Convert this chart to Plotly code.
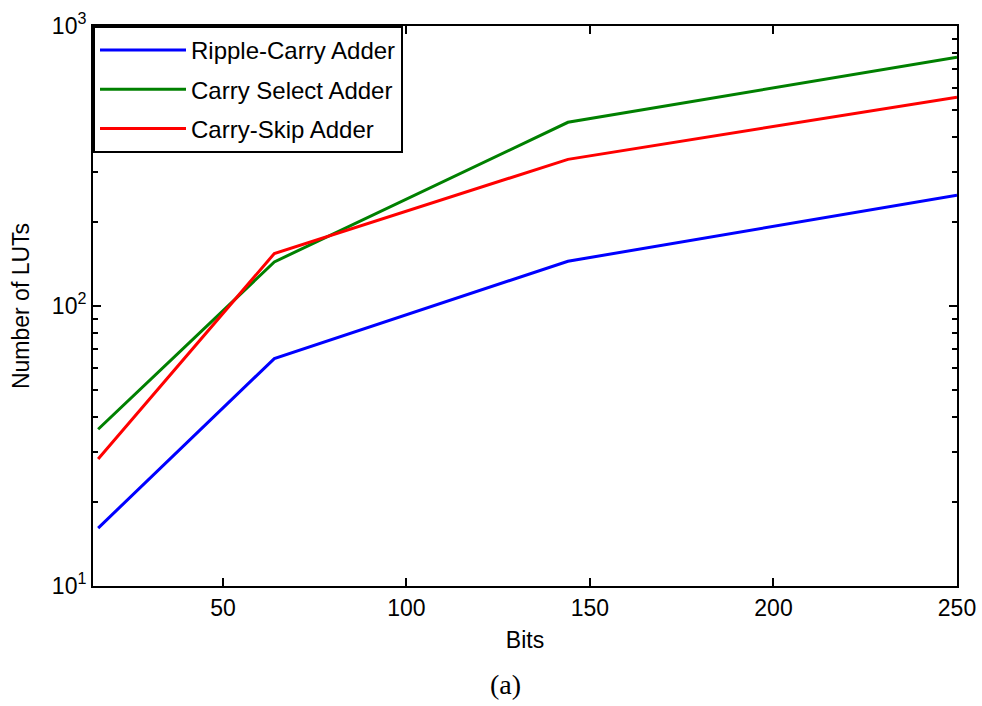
import plotly.graph_objects as go

bits = [16, 64, 144, 250]
ripple_carry = [16.1, 64.9, 144.5, 248.7]
carry_select = [36.3, 143.7, 453, 774]
carry_skip = [28.4, 154, 334, 557]

series = [
    ("Ripple-Carry Adder", ripple_carry, "#0000ff"),
    ("Carry Select Adder", carry_select, "#008000"),
    ("Carry-Skip Adder", carry_skip, "#ff0000"),
]

x_ticks = [50, 100, 150, 200, 250]
y_ticks = [10, 100, 1000]
y_ticktext = ["10<sup>1</sup>", "10<sup>2</sup>", "10<sup>3</sup>"]
y_minor = [m * d for d in (10, 100) for m in range(2, 10)]

fig = go.Figure()
for name, vals, color in series:
    fig.add_trace(go.Scatter(x=bits, y=vals, mode="lines", name=name,
                             legendgroup=name,
                             line=dict(color=color, width=3)))

font = dict(family="Liberation Sans, Arial", size=23, color="black")

fig.update_layout(
    width=982, height=706,
    margin=dict(l=93, r=25, t=26, b=120),
    paper_bgcolor="white", plot_bgcolor="white",
    font=font,
    showlegend=True,
    legend=dict(x=0, y=1, xanchor="left", yanchor="top",
                bordercolor="black", borderwidth=2, bgcolor="white",
                font=dict(family="Liberation Sans, Arial", size=24, color="black"),
                itemwidth=86, tracegroupgap=5),
    annotations=[dict(text="(a)", x=0.478, xref="paper", y=-0.175, yref="paper",
                      xanchor="center", yanchor="middle", showarrow=False,
                      font=dict(family="Liberation Serif, Times New Roman", size=28, color="black"))],
)

fig.update_xaxes(
    range=[14.6, 250], tickvals=x_ticks, ticks="inside", ticklen=8, tickwidth=1.5,
    tickcolor="black", showline=True, linecolor="black", linewidth=2,
    mirror="ticks", showgrid=False, zeroline=False, automargin=False,
    title=dict(text="Bits", standoff=12, font=font),
)
fig.update_yaxes(
    type="log", range=[1, 3], tickvals=y_ticks, ticktext=y_ticktext,
    ticks="inside", ticklen=8, tickwidth=1.5, tickcolor="black",
    showline=True, linecolor="black", linewidth=2, mirror="ticks",
    showgrid=False, zeroline=False, automargin=False,
    minor=dict(tickvals=y_minor, ticks="inside", ticklen=5, tickwidth=1.5,
               tickcolor="black", showgrid=False),
    title=dict(text="Number of LUTs", standoff=16, font=font),
)

fig.write_html("out.html")
